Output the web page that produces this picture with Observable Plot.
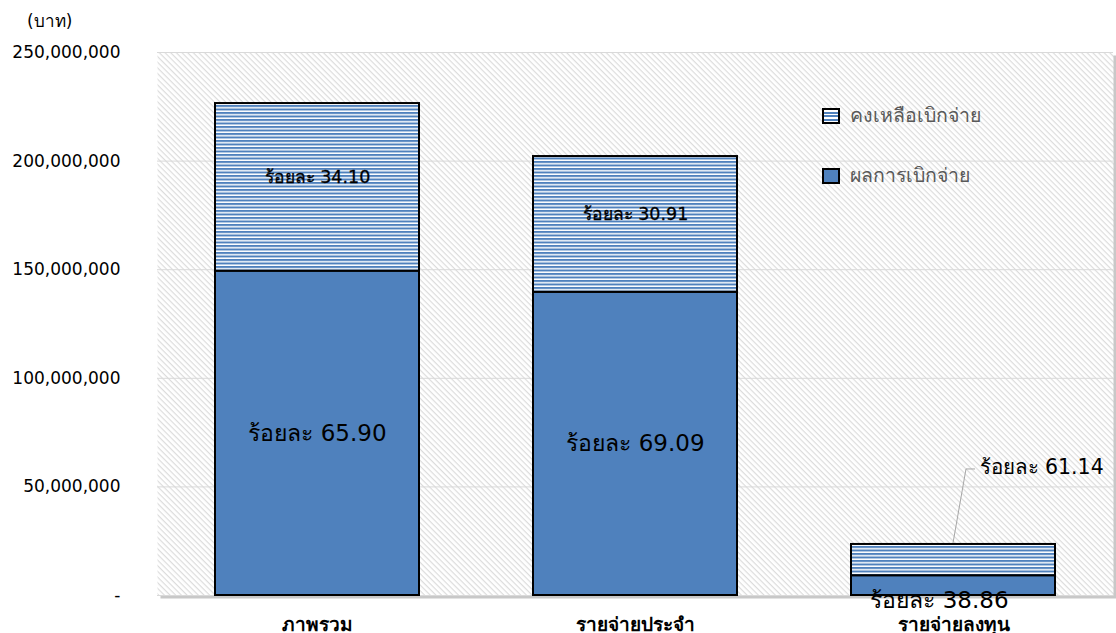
<!DOCTYPE html>
<html>
<head>
<meta charset="utf-8">
<script src="https://cdn.jsdelivr.net/npm/d3@7"></script>
<script src="https://cdn.jsdelivr.net/npm/@observablehq/plot@0.6"></script>
<style>
  html, body { margin: 0; padding: 0; background: #fff; }
  #wrap { position: relative; width: 1116px; height: 633px; font-family: Tahoma, "DejaVu Sans", sans-serif; }
  #unit { position: absolute; left: 27px; top: 7px; font-size: 17px; color: #000; }
  .leg { position: absolute; left: 822px; display: flex; align-items: center; font-size: 19.5px; color: #595959; line-height: 1; }
  .sw { width: 14px; height: 12px; border: 2px solid #000; margin-right: 10px; box-sizing: content-box; }
</style>
</head>
<body>
<div id="wrap">
  <div id="unit">(บาท)</div>
</div>
<script>
const categories = ["ภาพรวม", "รายจ่ายประจำ", "รายจ่ายลงทุน"];
const paid = [149300000, 139600000, 9100000];
const remaining = [77200000, 62500000, 14400000];
const pctPaid = ["65.90", "69.09", "38.86"];
const pctRemaining = ["34.10", "30.91", "61.14"];
const seriesNames = ["คงเหลือเบิกจ่าย", "ผลการเบิกจ่าย"];
const yTicks = [0, 50000000, 100000000, 150000000, 200000000, 250000000];

const rows = categories.map((c, i) => ({
  cat: c, paid: paid[i], total: paid[i] + remaining[i],
  pPaid: "ร้อยละ " + pctPaid[i], pRem: "ร้อยละ " + pctRemaining[i]
}));

const BLUE = "#4F81BD";
const FONT = 'Tahoma, "DejaVu Sans", sans-serif';

const chart = Plot.plot({
  width: 1116,
  height: 633,
  marginLeft: 157,
  marginRight: 3,
  marginTop: 52,
  marginBottom: 38,
  style: { fontFamily: FONT, background: "transparent", overflow: "visible" },
  x: { domain: categories, paddingInner: 0.357, paddingOuter: 0.1785, label: null },
  y: { domain: [0, 250000000], label: null },
  marks: [
    Plot.frame({ fill: "#c8c8c8", stroke: null, dx: 3, dy: 3 }),
    Plot.frame({ fill: "url(#hatch)", stroke: null }),
    Plot.gridY(yTicks, { stroke: "#d9d9d9", strokeOpacity: 1 }),
    Plot.axisY(yTicks, {
      tickSize: 0, tickPadding: 37, fontSize: 17,
      tickFormat: d => d === 0 ? "-" : d3.format(",")(d)
    }),
    Plot.axisX({ tickSize: 0, tickPadding: 22, fontSize: 19, fontWeight: "bold" }),
    Plot.barY(rows, { x: "cat", y1: 0, y2: "paid", fill: BLUE, stroke: "#000", strokeWidth: 2 }),
    Plot.barY(rows, { x: "cat", y1: "paid", y2: "total", fill: "url(#stripes)", stroke: "#000", strokeWidth: 2 }),
    Plot.text(rows.slice(0, 2), { x: "cat", y: d => d.paid / 2, text: "pPaid", fontSize: 23, fill: "#000" }),
    Plot.text(rows.slice(0, 2), { x: "cat", y: d => (d.paid + d.total) / 2, text: "pRem", fontSize: 17.5, fill: "#000", stroke: "#000", strokeWidth: 0.3, dy: -10 }),
    Plot.text(rows.slice(2), { x: "cat", y: 0, text: "pPaid", fontSize: 23, fill: "#000", dx: -14, dy: 5 }),
    Plot.text(rows.slice(2), { x: "cat", y: "total", text: "pRem", fontSize: 20.5, fill: "#000", textAnchor: "start", dx: 26, dy: -77 })
  ]
});

const svg = d3.select(chart);
const defs = svg.insert("defs", ":first-child");
const hatch = defs.append("pattern").attr("id", "hatch").attr("patternUnits", "userSpaceOnUse")
  .attr("width", 4).attr("height", 4).attr("patternTransform", "rotate(45)");
hatch.append("rect").attr("width", 4).attr("height", 4).attr("fill", "#fff");
hatch.append("rect").attr("width", 4).attr("height", 1.2).attr("fill", "#dcdcdc");
const stripes = defs.append("pattern").attr("id", "stripes").attr("patternUnits", "userSpaceOnUse")
  .attr("width", 10).attr("height", 3.5);
stripes.append("rect").attr("width", 10).attr("height", 3.5).attr("fill", "#fff");
stripes.append("rect").attr("width", 10).attr("height", 2).attr("fill", BLUE);

// leader line for the small bar's label, placed through the chart's own scales
const sx = chart.scale("x"), sy = chart.scale("y");
const r3 = rows[2];
const lx = sx.apply(r3.cat) + sx.bandwidth / 2;
const ly = sy.apply(r3.total);
svg.append("path")
  .attr("d", `M${lx},${ly - 1} L${lx + 13},${ly - 75} L${lx + 22},${ly - 75}`)
  .attr("fill", "none").attr("stroke", "#a6a6a6").attr("stroke-width", 1);

const wrap = document.getElementById("wrap");
wrap.appendChild(chart);
chart.style.position = "absolute"; chart.style.left = "0"; chart.style.top = "0";

const legY = [106, 166];
seriesNames.forEach((n, i) => {
  const d = document.createElement("div");
  d.className = "leg";
  d.style.top = legY[i] + "px";
  const sw = document.createElement("div");
  sw.className = "sw";
  sw.style.background = i === 0
    ? `repeating-linear-gradient(to bottom, #fff 0px, #fff 1.5px, ${BLUE} 1.5px, ${BLUE} 3.5px)`
    : BLUE;
  d.appendChild(sw);
  const t = document.createElement("span");
  t.textContent = n;
  d.appendChild(t);
  wrap.appendChild(d);
});
</script>
</body>
</html>
